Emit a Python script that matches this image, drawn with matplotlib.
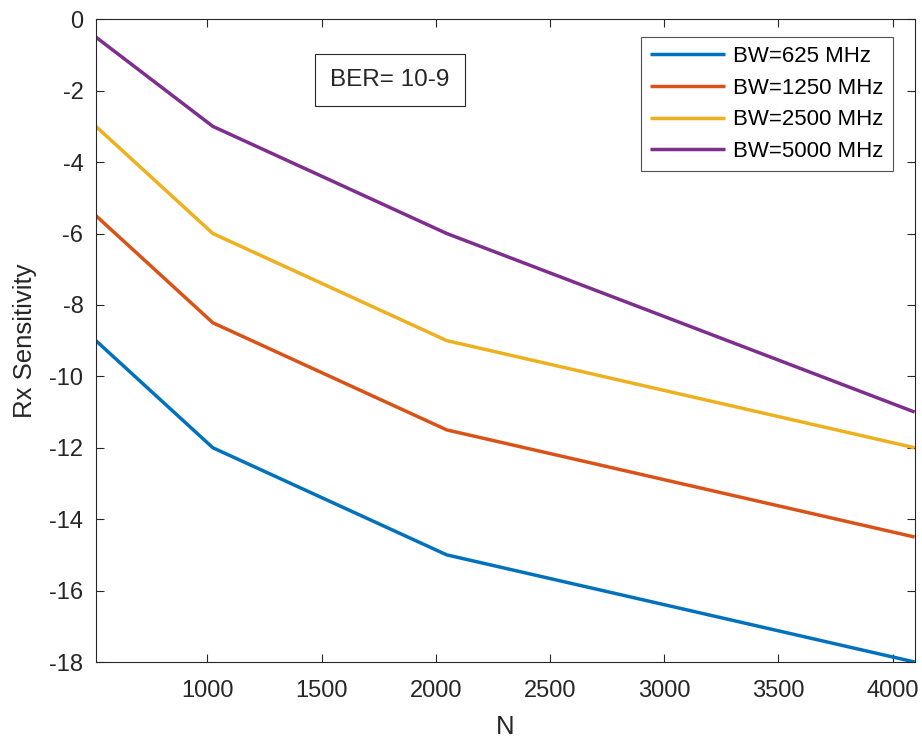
import matplotlib
matplotlib.use("Agg")
import matplotlib.pyplot as plt

plt.rcParams['font.family'] = ['Liberation Sans', 'DejaVu Sans']
plt.rcParams['axes.unicode_minus'] = False

N = [512, 1024, 2048, 4096]
bw_labels = ["BW=625 MHz", "BW=1250 MHz", "BW=2500 MHz", "BW=5000 MHz"]
sens_625 = [-9.0, -12.0, -15.0, -18.0]
sens_1250 = [-5.5, -8.5, -11.5, -14.5]
sens_2500 = [-3.0, -6.0, -9.0, -12.0]
sens_5000 = [-0.5, -3.0, -6.0, -11.0]
colors = ["#0072BD", "#D95319", "#EDB120", "#7E2F8E"]

fig = plt.figure(figsize=(9.22, 7.41), dpi=100)
ax = fig.add_axes([0.104, 0.1066, 0.888, 0.8674])

for y, lab, c in zip([sens_625, sens_1250, sens_2500, sens_5000], bw_labels, colors):
    ax.plot(N, y, color=c, lw=2.5, label=lab, solid_capstyle='butt')

ax.set_xlim(512, 4096)
ax.set_ylim(-18, 0)
ax.set_xticks([1000, 1500, 2000, 2500, 3000, 3500, 4000])
ax.set_yticks(range(-18, 1, 2))
ax.tick_params(direction='in', top=True, right=True, labelsize=17,
               colors='#262626', length=6, width=0.8)
ax.tick_params(axis='x', pad=13)
ax.tick_params(axis='y', pad=9)
for s in ax.spines.values():
    s.set_color('#262626')
    s.set_linewidth(0.8)
ax.set_xlabel("N", fontsize=18.5, color='#262626', labelpad=9)
ax.set_ylabel("Rx Sensitivity", fontsize=18.5, color='#262626', labelpad=9)

leg = ax.legend(loc='upper right', bbox_to_anchor=(0.973, 0.972), borderaxespad=0,
                fontsize=16, frameon=True, fancybox=False, handlelength=3.4,
                borderpad=0.4, labelspacing=0.48, handletextpad=0.35)
leg.get_frame().set_edgecolor('#262626')
leg.get_frame().set_linewidth(0.8)

ax.text(0.359, 0.905, "BER= 10-9", transform=ax.transAxes, fontsize=17.5,
        ha='center', va='center', color='#262626',
        bbox=dict(boxstyle='square,pad=0.62', fc='white', ec='#262626', lw=0.8))

fig.savefig("out.png", dpi=100)
